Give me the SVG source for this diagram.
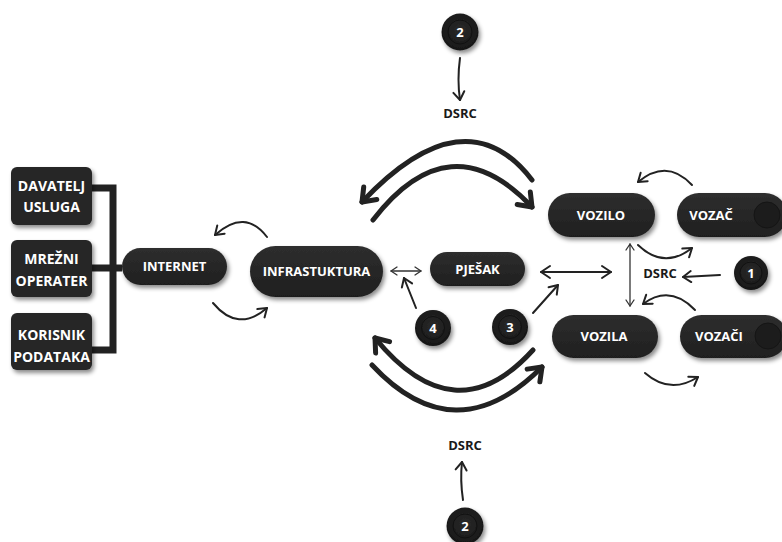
<svg xmlns="http://www.w3.org/2000/svg" width="782" height="542" viewBox="0 0 782 542">
<defs>
<style>
.pill{fill:url(#pg);filter:url(#sh)}
.box{fill:#262626;filter:url(#sh)}
.t{font-family:"Open Sans","Liberation Sans",sans-serif;font-weight:700;font-size:13px;fill:#fff;text-anchor:middle}
.tb{font-size:14px}
.lbl{font-family:"Open Sans","Liberation Sans",sans-serif;font-weight:700;font-size:13px;fill:#1a1a1a;text-anchor:middle}
.thick{fill:none;stroke:#222;stroke-width:5;stroke-linecap:round}
.med{fill:none;stroke:#222;stroke-width:2;stroke-linecap:round}
.thin{fill:none;stroke:#333;stroke-width:1.3;stroke-linecap:round}
.br{fill:none;stroke:#222;stroke-width:7}
.knob{fill:#1c1c1c;stroke:#151515;stroke-width:1}
</style>
<linearGradient id="pg" x1="0" y1="0" x2="0" y2="1">
<stop offset="0" stop-color="#2e2e2e"/>
<stop offset="1" stop-color="#1f1f1f"/>
</linearGradient>
<radialGradient id="cg" cx="0.5" cy="0.45" r="0.6">
<stop offset="0" stop-color="#2a2a2a"/>
<stop offset="1" stop-color="#151515"/>
</radialGradient>
<filter id="sh" x="-20%" y="-30%" width="140%" height="170%">
<feDropShadow dx="2" dy="3" stdDeviation="2" flood-color="#000" flood-opacity="0.45"/>
</filter>
<marker id="aT" markerUnits="userSpaceOnUse" viewBox="-16 -12 20 24" refX="0" refY="0" markerWidth="20" markerHeight="24" orient="auto" overflow="visible">
<path d="M -12 -9 L 0 0 L -12 9" fill="none" stroke="#222" stroke-width="5" stroke-linecap="round" stroke-linejoin="round"/>
</marker>
<marker id="aM" markerUnits="userSpaceOnUse" viewBox="-10 -8 12 16" refX="0" refY="0" markerWidth="12" markerHeight="16" orient="auto" overflow="visible">
<path d="M -8 -5.5 L 0 0 L -8 5.5" fill="none" stroke="#222" stroke-width="2" stroke-linecap="round" stroke-linejoin="round"/>
</marker>
<marker id="aS" markerUnits="userSpaceOnUse" viewBox="-8 -6 10 12" refX="0" refY="0" markerWidth="10" markerHeight="12" orient="auto-start-reverse" overflow="visible">
<path d="M -6 -4 L 0 0 L -6 4" fill="none" stroke="#333" stroke-width="1.3" stroke-linecap="round" stroke-linejoin="round"/>
</marker>
<marker id="aD" markerUnits="userSpaceOnUse" viewBox="-12 -8 14 16" refX="0" refY="0" markerWidth="14" markerHeight="16" orient="auto-start-reverse" overflow="visible">
<path d="M -9 -6 L 0 0 L -9 6" fill="none" stroke="#222" stroke-width="2" stroke-linecap="round" stroke-linejoin="round"/>
</marker>
</defs>
<rect width="782" height="542" fill="#fff"/>

<g id="connectors">
<path class="br" d="M 92 188 H 113 M 92 268 H 122 M 92 350 H 113 M 113 184.5 V 353.5"/>
<path class="thick" d="M 532 180 Q 465 93 362 202" marker-end="url(#aT)"/>
<path class="thick" d="M 373 220 Q 450 120 532 207" marker-end="url(#aT)"/>
<path class="thick" d="M 533 350 Q 455 436 375 338" marker-end="url(#aT)"/>
<path class="thick" d="M 372 365 Q 455 454 542 367" marker-end="url(#aT)"/>
<path class="med" d="M 267 237 Q 245 208 215 235" marker-end="url(#aM)"/>
<path class="med" d="M 213 303 Q 238 333 267 308" marker-end="url(#aM)"/>
<path class="med" d="M 692 185 Q 667 158 638 182" marker-end="url(#aM)"/>
<path class="med" d="M 638 245 Q 664 270 692 248" marker-end="url(#aM)"/>
<path class="med" d="M 695 310 Q 670 284 643 304" marker-end="url(#aM)"/>
<path class="med" d="M 645 373 Q 670 395 698 377" marker-end="url(#aM)"/>
<path class="med" d="M 460 58 Q 457 80 460 100" marker-end="url(#aM)"/>
<path class="med" d="M 463 500 Q 460 480 462 462" marker-end="url(#aM)"/>
<path class="med" stroke-width="1.6" d="M 416 308 L 404 278" marker-end="url(#aM)"/>
<path class="med" stroke-width="1.6" d="M 533 313 L 558 285" marker-end="url(#aM)"/>
<path class="med" d="M 720 275 L 683 277" marker-end="url(#aM)"/>
<path class="thin" d="M 391 271 L 421 271" marker-start="url(#aS)" marker-end="url(#aS)"/>
<path class="med" d="M 541 272 L 611 272" marker-start="url(#aD)" marker-end="url(#aD)"/>
<path class="thin" d="M 630 244 L 630 306" marker-start="url(#aS)" marker-end="url(#aS)"/>
</g>

<g id="davatelj">
<rect class="box" x="11" y="167" width="81" height="58" rx="6"/>
<text class="t tb" x="51.5" y="191">DAVATELJ</text>
<text class="t tb" x="51.5" y="212">USLUGA</text>
</g>
<g id="mrezni">
<rect class="box" x="11" y="240" width="81" height="57" rx="6"/>
<text class="t tb" x="51.5" y="264">MREŽNI</text>
<text class="t tb" x="51.5" y="286">OPERATER</text>
</g>
<g id="korisnik">
<rect class="box" x="11" y="313" width="81" height="57" rx="6"/>
<text class="t tb" x="51.5" y="340">KORISNIK</text>
<text class="t tb" x="51.5" y="362">PODATAKA</text>
</g>

<g id="internet">
<rect class="pill" x="122" y="248" width="105" height="37" rx="18.5"/>
<text class="t" x="174.5" y="271">INTERNET</text>
</g>
<g id="infrastuktura">
<rect class="pill" x="250" y="246" width="133" height="51" rx="25.5"/>
<text class="t" x="316.5" y="276">INFRASTUKTURA</text>
</g>
<g id="pjesak">
<rect class="pill" x="430" y="252" width="95" height="34" rx="17"/>
<text class="t" x="477.5" y="274">PJEŠAK</text>
</g>
<g id="vozilo">
<rect class="pill" x="548" y="193" width="107" height="44" rx="22"/>
<text class="t" x="601" y="220">VOZILO</text>
</g>
<g id="vozac">
<rect class="pill" x="677" y="193" width="110" height="44" rx="22"/>
<circle class="knob" cx="767" cy="215" r="13"/>
<text class="t" x="711" y="220">VOZAČ</text>
</g>
<g id="vozila">
<rect class="pill" x="552" y="315" width="106" height="43" rx="21.5"/>
<text class="t" x="604" y="341">VOZILA</text>
</g>
<g id="vozaci">
<rect class="pill" x="680" y="315" width="107" height="43" rx="21.5"/>
<circle class="knob" cx="768" cy="336" r="13"/>
<text class="t" x="719" y="341">VOZAČI</text>
</g>

<g id="c2top">
<circle cx="460" cy="32" r="18.5" fill="url(#cg)" filter="url(#sh)"/>
<circle cx="460" cy="32" r="12" fill="none" stroke="#111" stroke-width="1"/>
<text class="t" x="460" y="37">2</text>
</g>
<g id="c2bot">
<circle cx="465" cy="526" r="18.5" fill="url(#cg)" filter="url(#sh)"/>
<circle cx="465" cy="526" r="12" fill="none" stroke="#111" stroke-width="1"/>
<text class="t" x="465" y="531">2</text>
</g>
<g id="c1">
<circle cx="751" cy="273" r="17" fill="url(#cg)" filter="url(#sh)"/>
<circle cx="751" cy="273" r="11" fill="none" stroke="#111" stroke-width="1"/>
<text class="t" x="751" y="278">1</text>
</g>
<g id="c4">
<circle cx="433" cy="328" r="18" fill="url(#cg)" filter="url(#sh)"/>
<circle cx="433" cy="328" r="11.5" fill="none" stroke="#111" stroke-width="1"/>
<text class="t" x="433" y="333">4</text>
</g>
<g id="c3">
<circle cx="510" cy="327" r="18" fill="url(#cg)" filter="url(#sh)"/>
<circle cx="510" cy="327" r="11.5" fill="none" stroke="#111" stroke-width="1"/>
<text class="t" x="510" y="332">3</text>
</g>

<g id="labels">
<text class="lbl" x="460" y="118">DSRC</text>
<text class="lbl" x="465" y="450">DSRC</text>
<text class="lbl" x="660" y="278">DSRC</text>
</g>
</svg>
